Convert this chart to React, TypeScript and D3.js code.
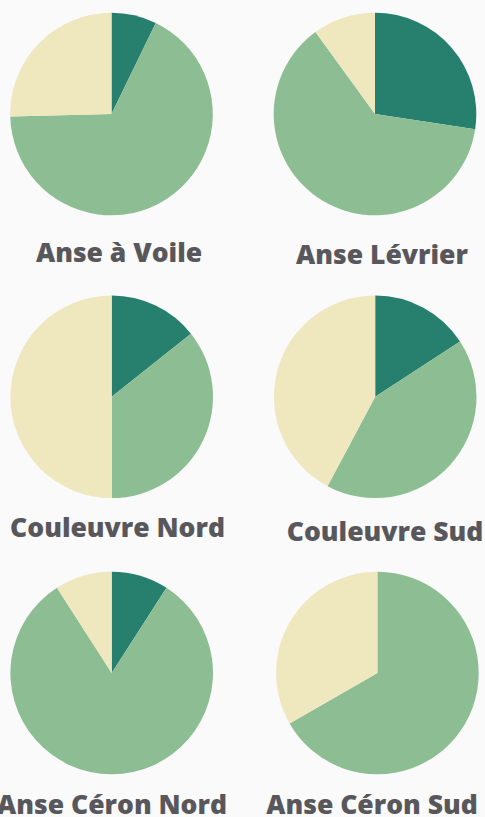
import React from "react";
import * as d3 from "d3";

const sites = ["Anse à Voile", "Anse Lévrier", "Couleuvre Nord", "Couleuvre Sud", "Anse Céron Nord", "Anse Céron Sud"];
const categories = ["Catégorie 1", "Catégorie 2", "Catégorie 3"];
const darkValues = [7.2, 27.4, 14.3, 15.8, 9.1, 0];
const greenValues = [67.4, 62.6, 35.7, 42.0, 81.8, 66.7];
const creamValues = [25.4, 10.0, 50.0, 42.2, 9.1, 33.3];
const colors = ["#277f6e", "#8dbe93", "#efe7be"];

const W = 485;
const H = 817;
const R = 101.3;
const pieCenters = [
  [111.5, 114],
  [375, 114],
  [111.7, 396.8],
  [375.2, 396.8],
  [111.7, 673],
  [377.4, 673],
];
const labelPos = [
  [119, 262],
  [382, 263.5],
  [117.5, 537],
  [385, 541],
  [112, 814],
  [372, 814],
];

export default function App() {
  const pie = d3.pie<number>().sort(null).value((d) => d);
  const arc = d3.arc<d3.PieArcDatum<number>>().innerRadius(0).outerRadius(R);
  const color = d3.scaleOrdinal<string, string>().domain(categories).range(colors);

  return (
    <svg width={W} height={H} style={{ position: "absolute", left: 0, top: 0, background: "#fafafa" }}>
      <rect x={0} y={0} width={W} height={H} fill="#fafafa" />
      {sites.map((site, i) => {
        const vals = [darkValues[i], greenValues[i], creamValues[i]];
        const arcs = pie(vals);
        const [cx, cy] = pieCenters[i];
        const [lx, ly] = labelPos[i];
        return (
          <g key={site}>
            <g transform={`translate(${cx},${cy})`}>
              {arcs.map((a, j) =>
                a.value > 0 ? <path key={j} d={arc(a) || ""} fill={color(categories[j])} /> : null
              )}
            </g>
            <text
              x={lx}
              y={ly}
              textAnchor="middle"
              fontFamily="'Open Sans', sans-serif"
              fontWeight={800}
              fontSize={26.5}
              fill="#58575c"
            >
              {site}
            </text>
          </g>
        );
      })}
    </svg>
  );
}
